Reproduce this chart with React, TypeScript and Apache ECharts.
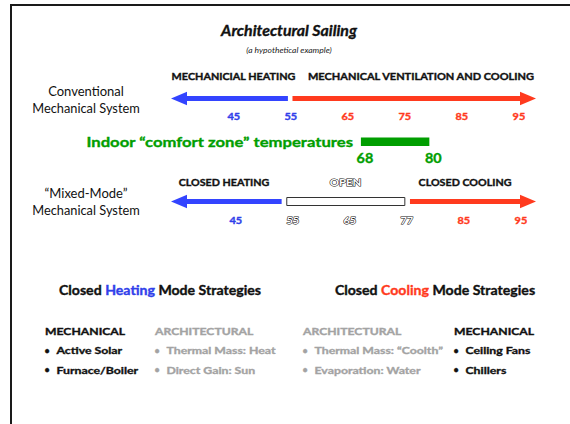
import React, { useEffect, useRef } from 'react';
import * as echarts from 'echarts';

// ---- data ----
const scaleRange = [34, 98];
const conventionalHeating = [54.5, 34];
const conventionalCooling = [55.3, 98];
const conventionalTickValues = [45, 55, 65, 75, 85, 95];
const conventionalTickLabels = ['45', '55', '65', '75', '85', '95'];
const conventionalTickModes = ['heat', 'heat', 'cool', 'cool', 'cool', 'cool'];
const comfortZone = [68, 80];
const comfortTickValues = [68, 80];
const comfortTickLabels = ['68', '80'];
const mixedHeating = [53.4, 34];
const mixedOpen = [54.3, 75];
const mixedCooling = [75.9, 98];
const mixedTickValues = [45, 55, 65, 75, 85, 95];
const mixedTickLabels = ['45', '55', '65', '77', '85', '95'];
const mixedTickModes = ['heat', 'open', 'open', 'open', 'cool', 'cool'];

const heatingMechanical = ['Active Solar', 'Furnace/Boiler'];
const heatingArchitectural = ['Thermal Mass: Heat', 'Direct Gain: Sun'];
const coolingArchitectural = ['Thermal Mass: \u201cCoolth\u201d', 'Evaporation: Water'];
const coolingMechanical = ['Ceiling Fans', 'Chillers'];

// ---- styles / layout ----
const FF = 'Lato, "Noto Sans", sans-serif';
const BLUE = '#3344ff';
const BLUE_TXT = '#3040ea';
const RED = '#ff3a1e';
const GREEN = '#009e00';
const GRAY = '#a3a3a3';
const BLACK = '#111111';
const B = 'bold';
const EMB = 0.35; // slight emboldening stroke for the heavy face
const modeColor: Record<string, string> = { heat: BLUE_TXT, cool: RED, open: '#ffffff', comfort: GREEN };

const rowY: Record<string, number> = { conv: 98.5, mixed: 201.5 };
const tickY: Record<string, number> = { conv: 116.5, mixed: 220.5, comfort: 158.5 };
const comfortBarY = [137.5, 146];

type ArrowItem = { seg: number[]; row: string; color: string; kind: 'arrow' | 'box' };
const arrowItems: ArrowItem[] = [
  { seg: conventionalHeating, row: 'conv', color: BLUE, kind: 'arrow' },
  { seg: conventionalCooling, row: 'conv', color: RED, kind: 'arrow' },
  { seg: mixedHeating, row: 'mixed', color: BLUE, kind: 'arrow' },
  { seg: mixedOpen, row: 'mixed', color: '#ffffff', kind: 'box' },
  { seg: mixedCooling, row: 'mixed', color: RED, kind: 'arrow' },
];

type TickItem = { v: number; label: string; row: string; mode: string };
const tickItems: TickItem[] = [
  ...conventionalTickValues.map((v, i) => ({ v, label: conventionalTickLabels[i], row: 'conv', mode: conventionalTickModes[i] })),
  ...comfortTickValues.map((v, i) => ({ v, label: comfortTickLabels[i], row: 'comfort', mode: 'comfort' })),
  ...mixedTickValues.map((v, i) => ({ v, label: mixedTickLabels[i], row: 'mixed', mode: mixedTickModes[i] })),
];

function txt(text: string, x: number, y: number, size: number, weight: any, fill: string, align = 'center', sx = 1, extra: any = {}) {
  const emb = weight === B ? { stroke: fill, lineWidth: EMB } : {};
  return {
    type: 'text',
    x,
    y,
    scaleX: sx,
    silent: true,
    style: {
      text,
      fontFamily: FF,
      fontSize: size,
      fontWeight: weight,
      fontStyle: 'normal',
      fill,
      align,
      verticalAlign: 'middle',
      ...emb,
      ...extra,
    },
  };
}

function richTitle(x: number, y: number, word: string, color: string) {
  const s = 12.5;
  return {
    type: 'text',
    x,
    y,
    scaleX: 1.13,
    silent: true,
    style: {
      text: `{a|Closed }{b|${word}}{a| Mode Strategies}`,
      align: 'center',
      verticalAlign: 'middle',
      fontFamily: FF,
      fontSize: s,
      fontWeight: B,
      fill: BLACK,
      rich: {
        a: { fontFamily: FF, fontWeight: B, fontSize: s, fill: BLACK, stroke: BLACK, lineWidth: EMB },
        b: { fontFamily: FF, fontWeight: B, fontSize: s, fill: color, stroke: color, lineWidth: EMB },
      },
    },
  };
}

function column(x: number, header: string, items: string[], color: string) {
  const els: any[] = [txt(header, x, 330.5, 10, B, color, 'left', 1.22)];
  items.forEach((it, i) => {
    const y = 350 + i * 19.5;
    els.push(txt('\u2022', x + 2, y, 9, B, color, 'center', 1));
    els.push(txt(it, x + 11.5, y, 10, B, color, 'left', 1.23));
  });
  return els;
}

export default function App() {
  const ref = useRef<HTMLDivElement>(null);
  useEffect(() => {
    if (!ref.current) return;
    const chart = echarts.init(ref.current, undefined, { renderer: 'svg' });
    const graphics: any[] = [
      { type: 'line', shape: { x1: 10, y1: 5, x2: 570, y2: 5 }, style: { stroke: '#1a1a1a', lineWidth: 2 } },
      { type: 'line', shape: { x1: 11, y1: 4, x2: 11, y2: 424 }, style: { stroke: '#1a1a1a', lineWidth: 2 } },
      txt('Architectural Sailing', 289, 30, 15, B, BLACK, 'center', 1.06, { fontStyle: 'italic' }),
      txt('(a hypothetical example)', 289, 50, 8.5, 'normal', '#222', 'center', 1, { fontStyle: 'italic' }),
      txt('MECHANICIAL HEATING', 233.5, 76.5, 9.5, B, BLACK, 'center', 1.14),
      txt('MECHANICAL VENTILATION AND COOLING', 421, 76.5, 9.5, B, BLACK, 'center', 1.16),
      txt('Conventional', 86, 91, 13, 'normal', BLACK),
      txt('Mechanical System', 86, 107.5, 12.8, 'normal', BLACK),
      txt('Indoor \u201ccomfort zone\u201d temperatures', 353, 141.5, 14, B, GREEN, 'right', 1.19),
      txt('CLOSED HEATING', 224, 182.5, 9.5, B, BLACK, 'center', 1.13),
      txt('OPEN', 345.5, 182.5, 9.5, B, '#ffffff', 'center', 1.2, { stroke: BLACK, lineWidth: 1 }),
      txt('CLOSED COOLING', 465, 182.5, 9.5, B, BLACK, 'center', 1.13),
      txt('\u201cMixed-Mode\u201d', 86, 192.5, 13, 'normal', BLACK),
      txt('Mechanical System', 86, 210, 12.8, 'normal', BLACK),
      richTitle(160, 290.5, 'Heating', BLUE_TXT),
      richTitle(435, 290.5, 'Cooling', RED),
      ...column(45, 'MECHANICAL', heatingMechanical, BLACK),
      ...column(155, 'ARCHITECTURAL', heatingArchitectural, GRAY),
      ...column(303, 'ARCHITECTURAL', coolingArchitectural, GRAY),
      ...column(454, 'MECHANICAL', coolingMechanical, BLACK),
    ];

    const option: any = {
      animation: false,
      backgroundColor: '#ffffff',
      grid: { left: 171, right: 34, top: 0, bottom: 0 },
      xAxis: { type: 'value', min: scaleRange[0], max: scaleRange[1], show: false },
      yAxis: { type: 'value', min: 0, max: 1, show: false },
      graphic: graphics,
      series: [
        {
          type: 'custom',
          name: 'segments',
          data: arrowItems.map((a) => a.seg),
          renderItem: (params: any, api: any) => {
            const item = arrowItems[params.dataIndex];
            const xa = api.coord([api.value(0), 0])[0];
            const xb = api.coord([api.value(1), 0])[0];
            const y = rowY[item.row];
            if (item.kind === 'box') {
              return {
                type: 'rect',
                shape: { x: xa, y: y - 4, width: xb - xa, height: 8 },
                style: { fill: '#ffffff', stroke: '#333333', lineWidth: 1 },
              };
            }
            const dir = xb > xa ? 1 : -1;
            const headLen = 16;
            const half = 2.5;
            const xBase = xb - dir * headLen;
            return {
              type: 'group',
              children: [
                {
                  type: 'rect',
                  shape: { x: Math.min(xa, xBase), y: y - half, width: Math.abs(xBase - xa), height: half * 2 },
                  style: { fill: item.color },
                },
                {
                  type: 'polygon',
                  shape: { points: [[xb, y], [xBase, y - 6.8], [xBase, y + 6.8]] },
                  style: { fill: item.color },
                },
              ],
            };
          },
        },
        {
          type: 'custom',
          name: 'comfort',
          data: [comfortZone],
          renderItem: (params: any, api: any) => {
            const xa = api.coord([api.value(0), 0])[0];
            const xb = api.coord([api.value(1), 0])[0];
            return {
              type: 'rect',
              shape: { x: xa - 4, y: comfortBarY[0], width: xb - xa, height: comfortBarY[1] - comfortBarY[0] },
              style: { fill: GREEN },
            };
          },
        },
        {
          type: 'custom',
          name: 'ticks',
          data: tickItems.map((t) => [t.v]),
          renderItem: (params: any, api: any) => {
            const t = tickItems[params.dataIndex];
            const x = api.coord([api.value(0), 0])[0] + (t.row === 'mixed' ? 2 : 0);
            const isOpen = t.mode === 'open';
            const size = t.row === 'comfort' ? 12.5 : 9.5;
            const fill = modeColor[t.mode];
            return {
              type: 'text',
              x,
              y: tickY[t.row],
              scaleX: 1.15,
              style: {
                text: t.label,
                fontFamily: FF,
                fontSize: size,
                fontWeight: B,
                fontStyle: 'normal',
                fill,
                stroke: isOpen ? BLACK : fill,
                lineWidth: isOpen ? 1 : EMB,
                align: 'center',
                verticalAlign: 'middle',
              },
            };
          },
        },
      ],
    };
    chart.setOption(option);
    return () => chart.dispose();
  }, []);
  return <div ref={ref} style={{ position: 'absolute', left: 0, top: 0, width: 570, height: 424 }} />;
}
